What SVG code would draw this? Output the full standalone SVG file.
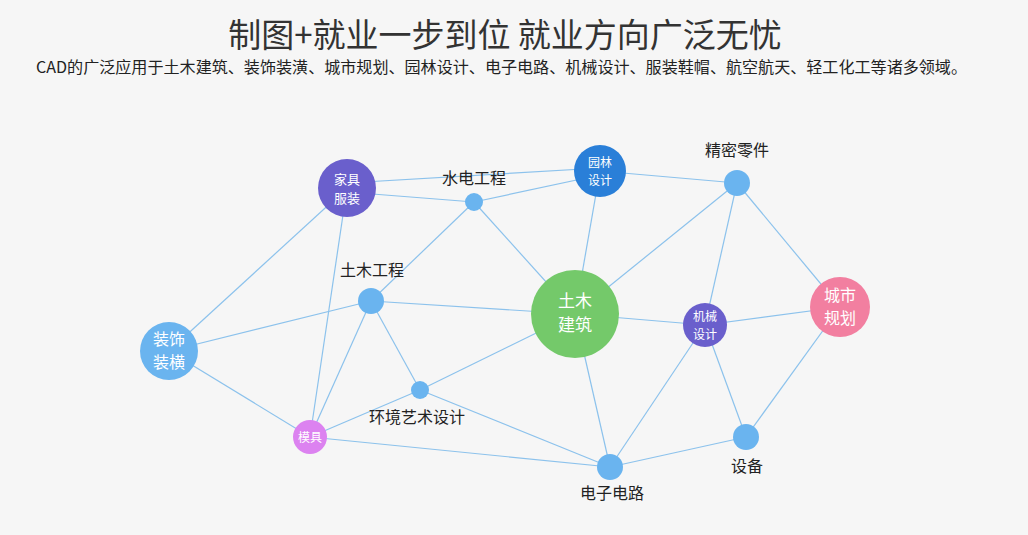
<svg xmlns="http://www.w3.org/2000/svg" width="1028" height="535" viewBox="0 0 1028 535">
<style>
text{font-family:"Noto Sans CJK SC","Noto Sans",sans-serif}
.e line{stroke:#8cc2ec;stroke-width:1.2}
.lb{font-size:16px;fill:#222;text-anchor:middle}
.in{fill:#fff;text-anchor:middle}
.s{fill:#6ab4ef}
</style>
<rect width="1028" height="535" fill="#f6f6f6"/>
<text x="505" y="47" font-size="33" fill="#333" text-anchor="middle">制图+就业一步到位 就业方向广泛无忧</text>
<text x="36" y="73" font-size="15.5" fill="#222" textLength="931" lengthAdjust="spacingAndGlyphs">CAD的广泛应用于土木建筑、装饰装潢、城市规划、园林设计、电子电路、机械设计、服装鞋帽、航空航天、轻工化工等诸多领域。</text>
<g class="e" id="edges">
<line x1="347" y1="183" x2="600" y2="168"/>
<line x1="347" y1="192" x2="474" y2="202"/>
<line x1="474" y1="202" x2="600" y2="175"/>
<line x1="347" y1="188" x2="169" y2="351"/>
<line x1="347" y1="188" x2="310" y2="437"/>
<line x1="474" y1="202" x2="371" y2="301"/>
<line x1="474" y1="202" x2="575" y2="314"/>
<line x1="600" y1="171" x2="575" y2="314"/>
<line x1="600" y1="171" x2="737" y2="183"/>
<line x1="371" y1="301" x2="169" y2="351"/>
<line x1="371" y1="301" x2="575" y2="314"/>
<line x1="371" y1="301" x2="310" y2="437"/>
<line x1="371" y1="301" x2="420" y2="390"/>
<line x1="169" y1="351" x2="310" y2="437"/>
<line x1="420" y1="390" x2="575" y2="314"/>
<line x1="420" y1="390" x2="610" y2="467"/>
<line x1="420" y1="390" x2="310" y2="437"/>
<line x1="310" y1="437" x2="610" y2="467"/>
<line x1="575" y1="314" x2="610" y2="467"/>
<line x1="575" y1="314" x2="705" y2="325"/>
<line x1="575" y1="314" x2="737" y2="183"/>
<line x1="737" y1="183" x2="705" y2="325"/>
<line x1="737" y1="183" x2="840" y2="307"/>
<line x1="705" y1="325" x2="840" y2="307"/>
<line x1="705" y1="325" x2="610" y2="467"/>
<line x1="705" y1="325" x2="746" y2="437"/>
<line x1="840" y1="307" x2="746" y2="437"/>
<line x1="746" y1="437" x2="610" y2="467"/>
</g>
<g id="n-jiaju"><circle cx="347" cy="188" r="29" fill="#6a5fcc"/><text class="in" x="347" y="184" font-size="13">家具</text><text class="in" x="347" y="203" font-size="13">服装</text></g>
<g id="n-shuidian"><circle class="s" cx="474" cy="202" r="9"/><text class="lb" x="474" y="184">水电工程</text></g>
<g id="n-yuanlin"><circle cx="600" cy="171" r="26" fill="#2a7fd8"/><text class="in" x="600" y="167" font-size="12">园林</text><text class="in" x="600" y="185" font-size="12">设计</text></g>
<g id="n-jingmi"><circle class="s" cx="737" cy="183" r="13"/><text class="lb" x="737" y="156">精密零件</text></g>
<g id="n-tumugc"><circle class="s" cx="371" cy="301" r="13"/><text class="lb" x="372" y="276">土木工程</text></g>
<g id="n-tumujz"><circle cx="575" cy="314" r="44" fill="#74c96a"/><text class="in" x="575" y="307" font-size="17">土木</text><text class="in" x="575" y="331" font-size="17">建筑</text></g>
<g id="n-jixie"><circle cx="705" cy="325" r="22" fill="#6a5fcc"/><text class="in" x="705" y="321" font-size="12">机械</text><text class="in" x="705" y="339" font-size="12">设计</text></g>
<g id="n-chengshi"><circle cx="840" cy="307" r="30" fill="#f27fa0"/><text class="in" x="840" y="301" font-size="16">城市</text><text class="in" x="840" y="324" font-size="16">规划</text></g>
<g id="n-zhuangshi"><circle cx="169" cy="351" r="29" fill="#6ab4ef"/><text class="in" x="169" y="345" font-size="16">装饰</text><text class="in" x="169" y="368" font-size="16">装横</text></g>
<g id="n-huanjing"><circle class="s" cx="420" cy="390" r="9"/><text class="lb" x="417" y="423">环境艺术设计</text></g>
<g id="n-muju"><circle cx="310" cy="437" r="17" fill="#dc82f0"/><text class="in" x="310" y="442" font-size="12">模具</text></g>
<g id="n-shebei"><circle class="s" cx="746" cy="437" r="13"/><text class="lb" x="747" y="472">设备</text></g>
<g id="n-dianzi"><circle class="s" cx="610" cy="467" r="13"/><text class="lb" x="612" y="499">电子电路</text></g>
</svg>
